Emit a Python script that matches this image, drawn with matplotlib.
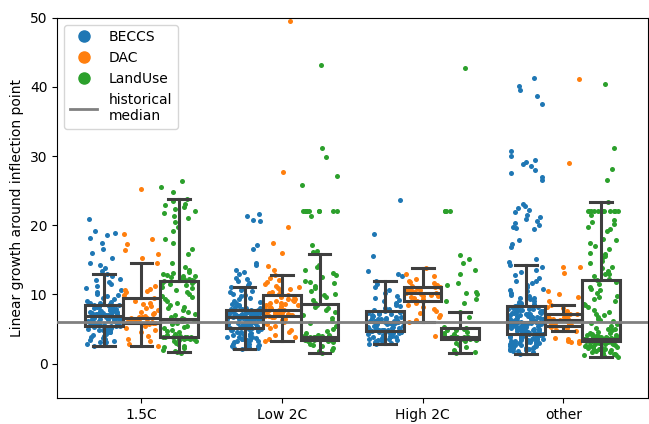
import matplotlib.pyplot as plt
from matplotlib.lines import Line2D
import numpy as np

# scenario categories and removal types
categories = ["1.5C", "Low 2C", "High 2C", "other"]
hues = ["BECCS", "DAC", "LandUse"]
hue_colors = ["#1f77b4", "#ff7f0e", "#2ca02c"]
historical_median = 6.0

# strip points
beccs_15c = [20.9, 19.2, 18.9, 18.6, 18.1, 17.4, 16.5, 16.0, 15.3, 14.6, 14.2, 13.8, 13.4, 13.0,
             12.7, 12.3, 12.1, 11.8, 11.5, 11.2, 10.9, 10.6, 10.4, 10.1, 9.9, 9.7, 9.5, 9.3, 9.1,
             8.9, 8.8, 8.7, 8.6, 8.5, 8.4, 8.3, 8.2, 8.1, 8.0, 8.0, 7.9, 7.8, 7.8, 7.7, 7.6, 7.6,
             7.5, 7.5, 7.4, 7.4, 7.3, 7.3, 7.2, 7.2, 7.1, 7.1, 7.0, 7.0, 7.0, 6.9, 6.9, 6.8, 6.8,
             6.7, 6.7, 6.6, 6.6, 6.5, 6.5, 6.4, 6.4, 6.3, 6.3, 6.2, 6.2, 6.1, 6.0, 6.0, 5.9, 5.8,
             5.8, 5.7, 5.6, 5.5, 5.5, 5.4, 5.3, 5.2, 5.1, 5.0, 4.9, 4.8, 4.7, 4.6, 4.5, 4.4, 4.3,
             4.1, 4.0, 3.9, 3.7, 3.5, 3.3, 3.1, 2.9, 2.7, 2.6, 6.85, 7.35, 7.65, 5.95, 6.45, 8.15,
             5.65, 4.85, 3.45, 3.05]
dac_15c = [25.2, 18.7, 18.0, 17.3, 16.4, 15.8, 15.2, 14.6, 11.2, 10.8, 10.7, 10.5, 10.4, 9.9, 9.5,
           9.1, 8.8, 8.6, 8.3, 8.0, 7.7, 7.5, 7.3, 7.1, 6.9, 6.8, 6.7, 6.6, 6.6, 6.5, 6.4, 6.3,
           6.2, 6.1, 6.0, 5.9, 5.8, 5.7, 5.5, 5.2, 4.8, 4.5, 4.0, 3.6, 3.2, 2.8, 2.6]
landuse_15c = [26.4, 25.5, 24.8, 23.8, 23.5, 23.1, 22.9, 22.6, 22.4, 22.1, 21.8, 21.4, 21.0, 20.5,
               19.8, 19.1, 18.0, 17.5, 16.6, 15.8, 14.5, 13.9, 13.5, 13.3, 13.0, 12.8, 12.6, 12.5,
               12.3, 12.2, 12.1, 12.0, 11.9, 11.7, 11.5, 11.3, 11.1, 10.9, 10.6, 10.3, 10.1, 9.8,
               9.6, 9.3, 9.0, 8.8, 8.5, 8.2, 8.0, 7.7, 7.5, 7.2, 7.0, 6.8, 6.6, 6.5, 6.3, 6.1, 5.9,
               5.7, 5.5, 5.3, 5.1, 4.9, 4.7, 4.5, 4.3, 4.1, 4.0, 3.9, 3.9, 3.8, 3.8, 3.8, 3.7, 3.7,
               3.7, 3.6, 3.6, 3.6, 3.5, 3.5, 3.4, 3.3, 3.2, 3.0, 2.8, 2.6, 2.4, 2.2, 2.0, 1.8, 1.6,
               1.5, 12.4, 12.7, 11.6, 13.1, 3.85, 3.95, 3.75]

beccs_low2c = [21.6, 21.3, 20.8, 20.6, 17.1, 16.6, 14.6, 14.2, 13.6, 13.2, 12.9, 12.4, 12.2, 12.0,
               11.7, 11.4, 11.1, 10.9, 10.7, 10.5, 10.3, 10.1, 9.9, 9.7, 9.5, 9.3, 9.1, 8.9, 8.8,
               8.6, 8.4, 8.3, 8.2, 8.1, 8.0, 7.9, 7.9, 7.8, 7.8, 7.7, 7.7, 7.6, 7.6, 7.5, 7.5, 7.4,
               7.4, 7.3, 7.3, 7.3, 7.2, 7.2, 7.1, 7.1, 7.0, 7.0, 7.0, 6.9, 6.9, 6.9, 6.8, 6.8, 6.8,
               6.7, 6.7, 6.6, 6.6, 6.6, 6.5, 6.5, 6.4, 6.4, 6.3, 6.3, 6.2, 6.2, 6.1, 6.1, 6.0, 6.0,
               5.9, 5.9, 5.8, 5.8, 5.7, 5.7, 5.6, 5.5, 5.5, 5.4, 5.3, 5.3, 5.2, 5.2, 5.1, 5.0, 5.0,
               4.9, 4.8, 4.7, 4.6, 4.5, 4.4, 4.3, 4.2, 4.1, 4.0, 3.9, 3.8, 3.7, 3.6, 3.5, 3.4, 3.3,
               3.2, 3.1, 3.0, 2.9, 2.8, 2.7, 2.6, 2.5, 2.4, 2.3, 2.2, 2.1, 7.15, 6.75, 5.65, 4.95,
               4.45, 3.85, 3.35, 2.75, 6.35, 7.85, 8.45, 5.45]
dac_low2c = [49.6, 27.7, 19.7, 17.5, 16.0, 14.1, 13.6, 12.8, 12.4, 12.1, 11.8, 11.5, 11.2, 11.0,
             10.8, 10.6, 10.4, 10.2, 10.0, 9.9, 9.8, 9.6, 9.4, 9.2, 9.1, 9.0, 8.8, 8.7, 8.6, 8.4,
             8.3, 8.2, 8.1, 8.0, 7.9, 7.8, 7.8, 7.7, 7.7, 7.6, 7.5, 7.4, 7.3, 7.2, 7.1, 7.0, 7.0,
             6.9, 6.8, 6.7, 6.5, 6.3, 6.0, 5.7, 5.4, 5.1, 4.8, 4.5, 4.2, 3.9, 3.6, 3.3, 10.9,
             9.3, 8.5, 7.25, 6.95]
landuse_low2c = [43.2, 31.2, 29.8, 27.1, 25.8, 22.1, 22.1, 22.1, 22.1, 22.1, 22.1, 22.1, 22.1,
                 22.1, 21.4, 17.1, 16.3, 16.1, 14.2, 13.9, 13.5, 13.1, 12.8, 12.5, 12.0, 11.6,
                 11.2, 10.9, 10.5, 10.0, 9.6, 9.2, 8.8, 8.5, 8.2, 7.8, 7.4, 7.0, 6.6, 6.2, 5.8, 5.4,
                 5.0, 4.7, 4.4, 4.2, 4.1, 4.0, 3.95, 3.9, 3.9, 3.85, 3.8, 3.8, 3.8, 3.75, 3.7, 3.7,
                 3.7, 3.65, 3.6, 3.6, 3.6, 3.55, 3.5, 3.5, 3.5, 3.45, 3.4, 3.4, 3.3, 3.2, 3.1, 2.9,
                 2.7, 2.5, 2.3, 2.0, 1.8, 1.5, 3.85, 3.75, 3.65, 3.55, 11.8, 9.9, 8.1]

beccs_high2c = [23.6, 18.8, 15.5, 13.4, 13.0, 12.6, 12.0, 11.5, 11.0, 10.6, 10.2, 9.8, 9.5, 9.2,
                9.0, 8.7, 8.5, 8.3, 8.1, 7.9, 7.8, 7.7, 7.6, 7.5, 7.4, 7.3, 7.2, 7.1, 7.0, 6.9, 6.8,
                6.7, 6.6, 6.5, 6.4, 6.3, 6.2, 6.1, 6.1, 6.0, 6.0, 5.9, 5.9, 5.8, 5.8, 5.7, 5.6, 5.5,
                5.4, 5.3, 5.2, 5.1, 5.0, 5.0, 4.9, 4.9, 4.8, 4.8, 4.7, 4.7, 4.6, 4.6, 4.5, 4.5, 4.4,
                4.3, 4.2, 4.1, 4.0, 3.9, 3.8, 3.7, 3.6, 3.5, 3.4, 3.3, 3.2, 3.1, 3.0, 2.9, 2.8, 6.45,
                5.75, 5.35, 4.85, 4.35, 3.95, 3.45, 7.25, 6.65, 5.15, 4.55]
dac_high2c = [13.8, 12.9, 12.6, 12.3, 12.0, 11.8, 11.6, 11.4, 11.2, 11.1, 11.0, 10.9, 10.8, 10.7,
              10.6, 10.5, 10.4, 10.3, 10.2, 10.2, 10.1, 10.0, 9.9, 9.8, 9.7, 9.6, 9.5, 9.3, 9.1,
              9.0, 8.8, 8.5, 8.2, 7.9, 7.6, 7.3, 7.0, 6.7, 6.3, 6.0, 4.0]
landuse_high2c = [42.7, 22.1, 22.1, 22.1, 22.1, 15.7, 15.1, 14.5, 13.5, 12.9, 11.6, 11.4, 10.4,
                  10.2, 10.1, 9.4, 9.1, 8.8, 7.4, 6.7, 5.3, 5.1, 5.0, 4.9, 4.8, 4.6, 4.4, 4.3, 4.1,
                  4.0, 3.9, 3.9, 3.8, 3.8, 3.8, 3.7, 3.7, 3.6, 3.6, 3.5, 3.5, 3.4, 3.2, 3.0, 2.7,
                  2.4, 2.0, 1.7, 1.5]

beccs_other = [41.3, 40.2, 39.6, 38.7, 37.6, 30.7, 30.0, 29.5, 29.1, 28.9, 28.5, 28.0, 27.6, 27.0,
               26.6, 23.1, 22.8, 22.5, 22.2, 21.9, 21.5, 21.2, 20.9, 20.6, 20.3, 20.0, 19.8, 19.6,
               19.5, 17.8, 17.3, 16.8, 15.1, 14.7, 14.2, 13.9, 13.5, 13.2, 12.8, 12.4, 12.0, 11.7,
               11.4, 11.1, 10.8, 10.5, 10.2, 9.9, 9.7, 9.5, 9.3, 9.1, 8.9, 8.7, 8.5, 8.4, 8.3, 8.2,
               8.1, 8.0, 7.9, 7.8, 7.7, 7.6, 7.5, 7.4, 7.3, 7.2, 7.1, 7.0, 6.9, 6.8, 6.7, 6.6, 6.5,
               6.4, 6.3, 6.2, 6.1, 6.0, 6.0, 5.9, 5.8, 5.7, 5.6, 5.5, 5.4, 5.3, 5.2, 5.1, 5.0, 4.9,
               4.8, 4.7, 4.6, 4.5, 4.4, 4.3, 4.2, 4.1, 4.0, 3.9, 3.8, 3.7, 3.6, 3.5, 3.4, 3.3, 3.2,
               3.1, 3.0, 2.9, 2.8, 2.7, 2.6, 2.5, 2.4, 2.3, 2.2, 2.1, 2.0, 1.8, 1.6, 1.4,
               8.05, 7.85, 7.55, 7.35, 7.05, 6.85, 6.55, 6.35, 6.05, 5.85, 5.55, 5.35, 5.05, 4.85,
               4.55, 4.35, 4.05, 3.85, 3.55, 3.35, 3.05, 2.85, 2.55, 2.35, 2.15, 7.95, 7.25, 6.75,
               6.15, 5.65, 5.25, 4.75, 4.15, 3.65, 3.15, 2.65, 9.45, 10.6, 11.9, 8.65, 7.65, 6.45,
               5.95, 5.45, 4.95, 4.45, 3.95, 3.45, 2.95, 2.45, 1.95, 1.75, 6.25, 5.75, 4.65, 3.75,
               2.75, 8.35, 7.15, 6.95, 5.15, 4.25, 3.25, 2.25]
dac_other = [41.1, 29.0, 14.0, 13.9, 13.1, 10.5, 10.0, 9.6, 9.1, 8.5, 8.2, 8.0, 7.6, 7.4, 7.2, 7.1,
             7.0, 6.9, 6.8, 6.7, 6.6, 6.5, 6.4, 6.3, 6.2, 6.1, 6.0, 5.9, 5.8, 5.7, 5.6, 5.5, 5.4,
             5.3, 5.1, 4.9, 4.7, 3.7, 3.5, 3.3, 3.2, 3.1, 3.0]
landuse_other = [40.4, 31.2, 28.1, 26.5, 23.4, 22.1, 22.1, 22.1, 22.1, 22.1, 22.1, 22.1, 22.1,
                 22.1, 22.1, 22.1, 22.1, 21.5, 20.8, 20.2, 19.8, 19.4, 18.0, 17.5, 17.0, 16.5,
                 16.0, 15.5, 15.2, 14.8, 14.5, 14.0, 13.8, 13.4, 13.0, 12.6, 12.3, 12.1, 11.8,
                 11.5, 11.0, 10.6, 10.2, 9.8, 9.4, 9.0, 8.6, 8.2, 7.8, 7.4, 7.0, 6.7, 6.4, 6.1, 5.8,
                 5.5, 5.2, 5.0, 4.8, 4.6, 4.4, 4.3, 4.2, 4.1, 4.0, 3.9, 3.9, 3.8, 3.8, 3.7, 3.7, 3.7,
                 3.6, 3.6, 3.6, 3.6, 3.5, 3.5, 3.5, 3.4, 3.4, 3.3, 3.3, 3.2, 3.2, 3.1, 3.0, 2.9,
                 2.8, 2.7, 2.6, 2.5, 2.4, 2.3, 2.2, 2.1, 2.0, 1.9, 1.8, 1.7, 1.6, 1.5, 1.4, 1.3, 1.2,
                 1.1, 1.0, 3.85, 3.75, 3.65, 3.55, 3.45, 3.35, 3.25, 3.15, 2.95, 2.65, 2.35, 2.05,
                 1.75, 1.45, 4.15, 4.45, 4.95, 5.65, 6.25, 7.2, 8.4, 9.6, 10.8, 12.9, 15.8, 17.8,
                 19.1, 20.5, 3.95, 3.85, 3.62, 3.42, 3.22, 2.85, 2.45]

# box statistics (one value per category)
beccs_box = dict(q1=[5.5, 5.2, 4.7, 4.3], med=[6.9, 6.7, 6.0, 6.0], q3=[8.5, 7.8, 7.6, 8.3],
                 lo=[2.6, 2.1, 2.8, 1.4], hi=[12.9, 11.1, 12.0, 14.3])
dac_box = dict(q1=[5.9, 6.9, 9.0, 5.5], med=[6.6, 7.7, 10.2, 6.3], q3=[9.5, 9.9, 11.0, 7.1],
               lo=[2.6, 3.3, 6.0, 4.7], hi=[14.6, 12.8, 13.8, 8.5])
landuse_box = dict(q1=[3.9, 3.4, 3.5, 3.2], med=[6.5, 3.8, 3.8, 3.6], q3=[11.9, 8.6, 5.1, 12.1],
                   lo=[1.6, 1.5, 1.5, 1.0], hi=[23.8, 15.9, 7.4, 23.4])

points = [
    [beccs_15c, beccs_low2c, beccs_high2c, beccs_other],
    [dac_15c, dac_low2c, dac_high2c, dac_other],
    [landuse_15c, landuse_low2c, landuse_high2c, landuse_other],
]
boxes = [beccs_box, dac_box, landuse_box]

fig = plt.figure(figsize=(6.49, 4.24), dpi=100)
ax = fig.add_axes([0.088, 0.061, 0.91, 0.897])

width = 0.8 / len(hues)
rng = np.random.default_rng(3)  # jitter only
edge = "#3f3f3f"

for j, (hue, color) in enumerate(zip(hues, hue_colors)):
    offset = (j - 1) * width
    for i, vals in enumerate(points[j]):
        x = i + offset + rng.uniform(-0.47 * width, 0.47 * width, len(vals))
        ax.scatter(x, vals, s=13, color=color, linewidths=0, zorder=2)

    b = boxes[j]
    stats = [dict(q1=b["q1"][i], med=b["med"][i], q3=b["q3"][i],
                  whislo=b["lo"][i], whishi=b["hi"][i]) for i in range(len(categories))]
    ax.bxp(stats, positions=[i + offset for i in range(len(categories))],
           widths=width, capwidths=width * 0.58, showfliers=False, patch_artist=True,
           boxprops=dict(facecolor="none", edgecolor=edge, linewidth=2.2),
           whiskerprops=dict(color=edge, linewidth=2.2),
           capprops=dict(color=edge, linewidth=2.2),
           medianprops=dict(color=edge, linewidth=2.2),
           manage_ticks=False, zorder=3)

ax.axhline(historical_median, color="grey", linewidth=2, zorder=4)

ax.set_xlim(-0.6, 3.6)
ax.set_ylim(-5, 50)
ax.set_xticks(range(len(categories)))
ax.set_xticklabels(categories)
ax.set_yticks([0, 10, 20, 30, 40, 50])
ax.set_ylabel("Linear growth around inflection point")

handles = [Line2D([], [], marker="o", linestyle="", color=c, markersize=8) for c in hue_colors]
handles.append(Line2D([], [], color="grey", linewidth=2))
ax.legend(handles, hues + ["historical\nmedian"], loc="upper left")

fig.savefig("out.png", dpi=100)
